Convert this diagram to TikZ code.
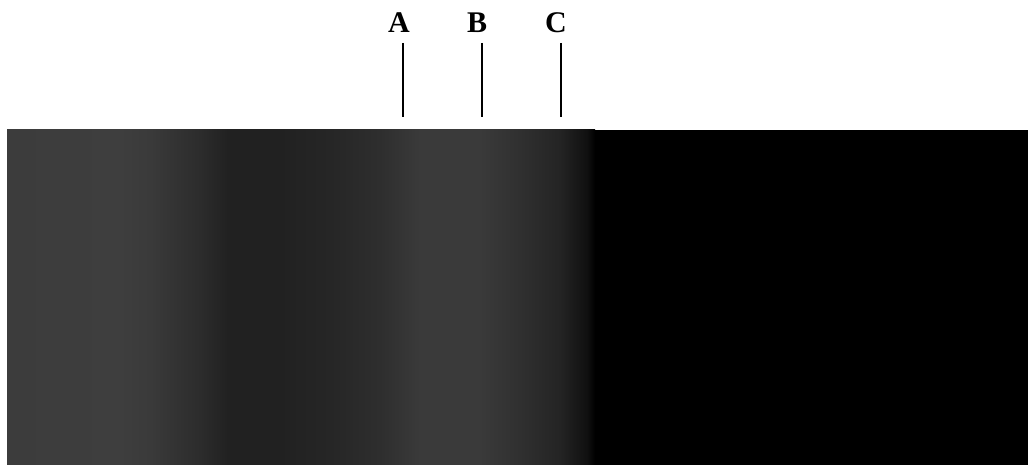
\documentclass[tikz,border=0pt]{standalone}
\usepackage{fontspec}
\setmainfont{Liberation Serif}
\usepackage{xcolor}
\usetikzlibrary{positioning}
\definecolor{bandlight}{RGB}{60, 60, 60}
\definecolor{bandtop}{RGB}{62, 62, 62}
\definecolor{bandmid}{RGB}{44, 44, 44}
\definecolor{banddark}{RGB}{33, 33, 33}
\definecolor{bandlow}{RGB}{38, 38, 38}
\definecolor{bandrise}{RGB}{46, 46, 46}
\definecolor{bandpeak}{RGB}{58, 58, 58}
\definecolor{bandfall}{RGB}{48, 48, 48}
\definecolor{bandedge}{RGB}{36, 36, 36}
\definecolor{bandblack}{RGB}{16, 16, 16}
% inner 25bp--75bp is stretched over the strip
\pgfdeclarehorizontalshading{edgebands}{100bp}{
  color(0bp)=(bandlight); color(25bp)=(bandlight); color(34.6bp)=(bandtop);
  color(37.2bp)=(bandpeak); color(41.4bp)=(bandmid); color(43.8bp)=(banddark);
  color(48.2bp)=(banddark); color(52.5bp)=(bandlow); color(56.7bp)=(bandrise);
  color(60.1bp)=(bandpeak); color(62.7bp)=(bandpeak); color(65.2bp)=(bandpeak);
  color(68.6bp)=(bandfall); color(72.0bp)=(bandedge); color(74.3bp)=(bandblack);
  color(75bp)=(black); color(100bp)=(black)}

\begin{document}
\begin{tikzpicture}[
    x=1pt, y=-1pt,
    marker/.style={font=\fontsize{30}{36}\selectfont\bfseries, inner sep=0pt, anchor=base},
    tick/.style={line width=2pt}
]
    \useasboundingbox (0,0) rectangle (1028,465);

    % Strip
    \begin{scope}
        \clip (7,130) rectangle (595,465);
        \shade[shading=edgebands] (7,130) rectangle (595,465);
    \end{scope}
    \fill[black] (595,130) rectangle (1028,465);

    % Markers
    \foreach \name/\lx/\tx in {A/399/403, B/477/482, C/556/561} {
        \node[marker] (lab\name) at (\lx,33) {\name};
        \coordinate (top\name) at (\tx,43);
        \coordinate (bot\name) at (\tx,117);
        \draw[tick] (top\name) -- (bot\name);
    }
\end{tikzpicture}
\end{document}
